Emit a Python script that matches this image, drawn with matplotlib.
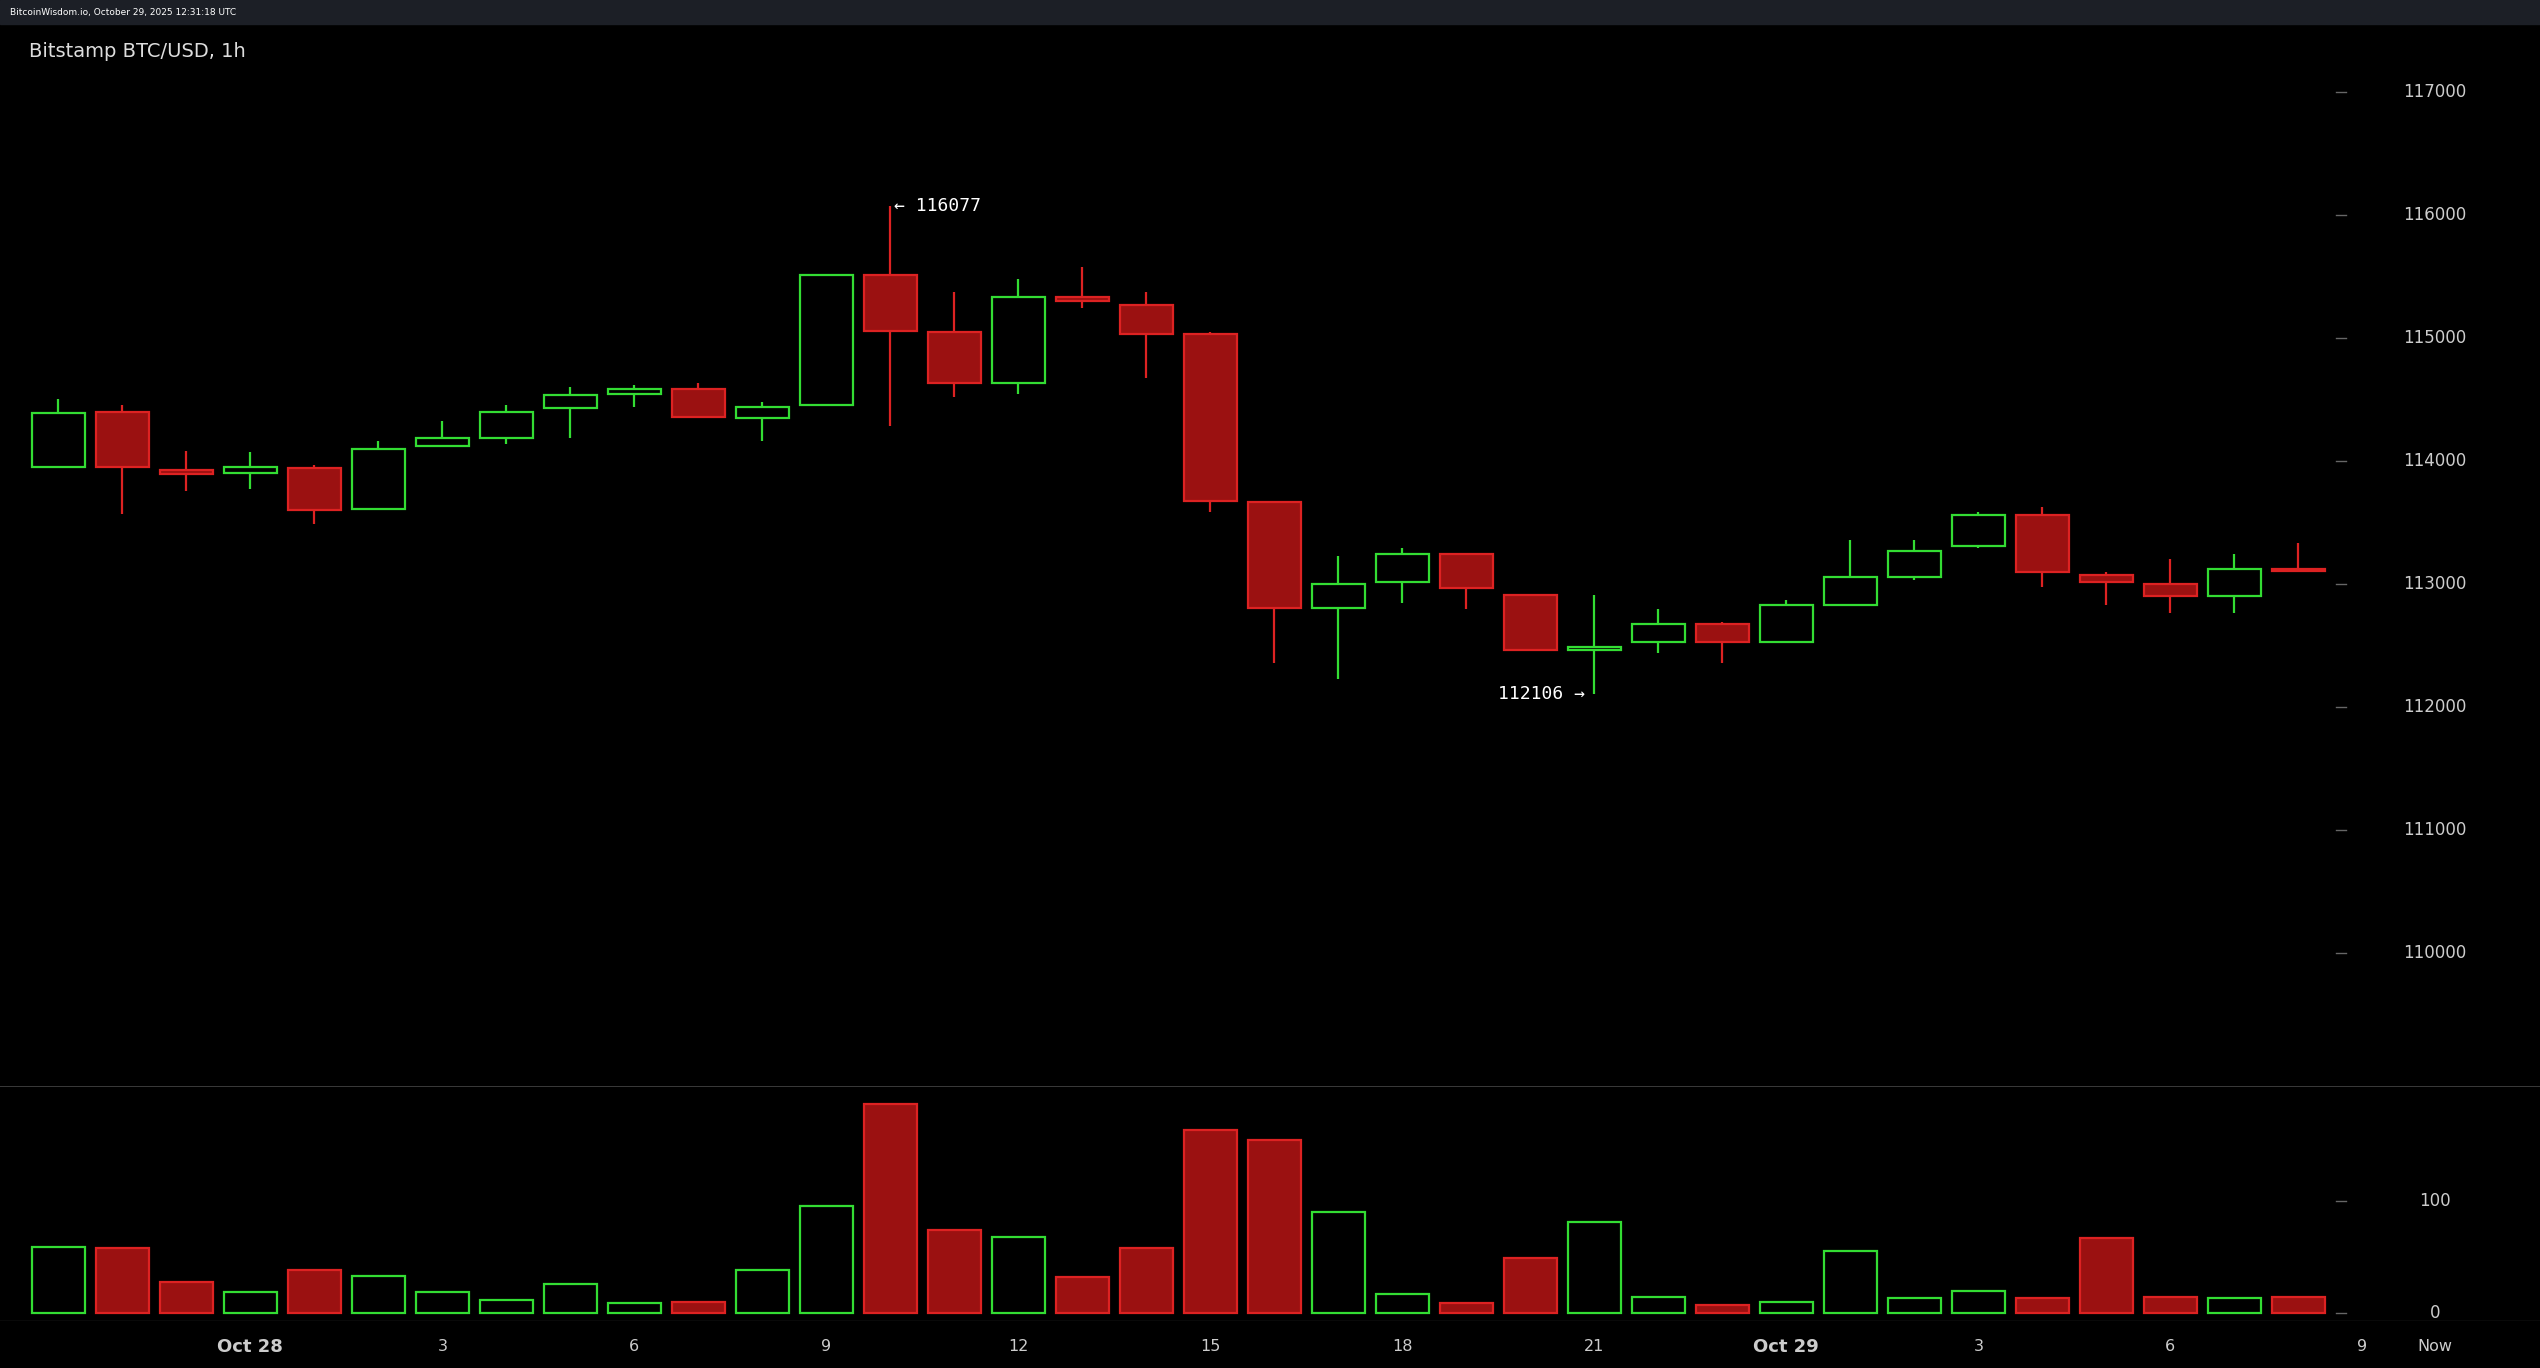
import matplotlib
matplotlib.use("Agg")
import matplotlib.pyplot as plt
from matplotlib.patches import Rectangle

opens  = [113955,114404,113930,113903,113942,113613,114127,114193,114430,114548,114588,114351,114456,115511,115050,114640,115339,115273,115036,113666,112809,113020,113244,112914,112466,112532,112677,112532,112835,113059,113310,113560,113073,113006,112901,113125]
highs  = [114509,114456,114087,114074,113968,114166,114325,114456,114601,114620,114640,114483,115511,116077,115379,115484,115577,115379,115050,113680,113231,113297,113244,112914,112914,112796,112690,112875,113363,113363,113586,113626,113100,113204,113244,113336]
lows   = [113955,113573,113757,113771,113494,113613,114114,114140,114193,114443,114351,114166,114456,114285,114522,114548,115247,114680,113586,112361,112229,112848,112796,112466,112106,112440,112361,112532,112835,113033,113297,112980,112835,112769,112769,113112]
closes = [114390,113955,113900,113955,113600,114100,114193,114404,114535,114588,114364,114443,115511,115063,114640,115339,115300,115036,113679,112809,113006,113244,112967,112466,112493,112677,112532,112835,113059,113270,113560,113099,113020,112901,113125,113112]
volumes = [59,58,28,19,38,33,19,12,26,9,10,38,96,187,74,68,32,58,164,155,90,17,9,49,81,14,7,10,55,13,20,13,67,14,13,14]
tick_pos = [3,6,9,12,15,18,21,24,27,30,33,36]
tick_labels = ["Oct 28","3","6","9","12","15","18","21","Oct 29","3","6","9"]
price_ticks = [110000,111000,112000,113000,114000,115000,116000,117000]
vol_ticks = [0,100]

W, H = 1568, 844
SP = 39.51
fig = plt.figure(figsize=(25.4, 13.68), dpi=100, facecolor="#000000")
def fy(y): return 1 - y / H
def fx(x): return x / W

fig.patches.append(Rectangle((0, fy(15)), 1, 15 / H, transform=fig.transFigure, color="#1c1f26", zorder=0))
fig.text(fx(6), fy(8), "BitcoinWisdom.io, October 29, 2025 12:31:18 UTC", color="white", fontsize=6.5, va="center")

xlim = (-36 / SP, (W - 36) / SP)
axp = fig.add_axes([0, fy(670), 1, (670 - 15) / H], facecolor="black")
axv = fig.add_axes([0, fy(815), 1, (815 - 670) / H], facecolor="black")
for ax in (axp, axv):
    ax.set_xlim(*xlim)
    ax.set_xticks([]); ax.set_yticks([])
    for s in ax.spines.values():
        s.set_visible(False)
axp.set_ylim(108921, 117553)
axv.set_ylim(-7.2, 203)
axv.axhline(203, color="#444444", lw=1.2)
axv.axhline(-7.2, color="#333333", lw=1.0)

G, R, RF = "#33dd33", "#dd2222", "#9b1111"
bw = 0.82
for i, (o, h, l, c, v) in enumerate(zip(opens, highs, lows, closes, volumes)):
    up = c >= o
    col = G if up else R
    lo, hi = min(o, c), max(o, c)
    axp.vlines(i, l, lo, color=col, lw=1.6)
    axp.vlines(i, hi, h, color=col, lw=1.6)
    axp.add_patch(Rectangle((i - bw / 2, lo), bw, max(hi - lo, 12),
                            facecolor="black" if up else RF, edgecolor=col, lw=1.6))
    axv.add_patch(Rectangle((i - bw / 2, 0), bw, v,
                            facecolor="black" if up else RF, edgecolor=col, lw=1.6))

xr = (1445 - 36) / SP
xl = (1503 - 36) / SP
for p in price_ticks:
    axp.plot([xr - 0.08, xr + 0.08], [p, p], color="#666666", lw=1)
    axp.text(xl, p, str(p), color="#cccccc", fontsize=12, ha="center", va="center")
for v in vol_ticks:
    axv.plot([xr - 0.08, xr + 0.08], [v, v], color="#666666", lw=1)
    axv.text(xl, v, str(v), color="#cccccc", fontsize=12, ha="center", va="center")

for p, t in zip(tick_pos, tick_labels):
    bold = t.startswith("Oct")
    fig.text(fx(36 + p * SP), fy(831), t, color="#cccccc", fontsize=13 if bold else 11.5,
             fontweight="bold" if bold else "normal", ha="center", va="center")
fig.text(fx(1503), fy(831), "Now", color="#cccccc", fontsize=11.5, ha="center", va="center")

axp.text(13 + 0.05, 116077, "← 116077", color="white", fontsize=13, ha="left", va="center", family="DejaVu Sans Mono")
axp.text(24 - 0.15, 112106, "112106 →", color="white", fontsize=13, ha="right", va="center", family="DejaVu Sans Mono")
fig.text(fx(18), fy(32), "Bitstamp BTC/USD, 1h", color="#dddddd", fontsize=14, va="center")

fig.savefig("out.png", dpi=100, facecolor=fig.get_facecolor())
